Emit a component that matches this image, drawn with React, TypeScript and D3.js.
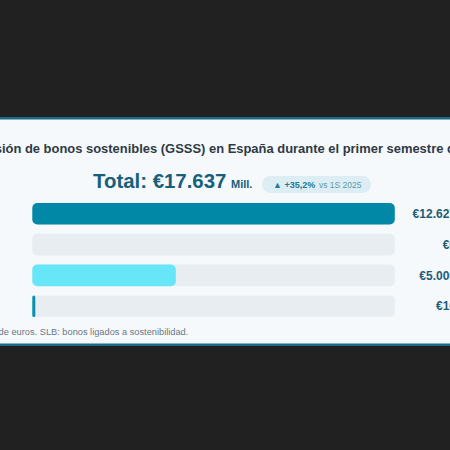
import React from "react";
import * as d3 from "d3";

const categories = ["Verdes", "Sociales", "Sostenibles", "SLB"];
const values = [12627, 0, 5000, 10];
const barColors = ["#0088a6", "#0088a6", "#66e6f7", "#0b8fac"];
const title = "Emisión de bonos sostenibles (GSSS) en España durante el primer semestre de 2026";
const totalLabel = "Total: €17.637";
const unitLabel = "Mill.";
const changeLabel = "▲ +35,2%";
const compareLabel = "vs 1S 2025";
const footnote = "Cifras en millones de euros. SLB: bonos ligados a sostenibilidad.";

const fmt = (v: number) => "€" + d3.format(",")(v).replace(/,/g, ".");

export default function App() {
  const W = 450, H = 450;
  const font = "'Liberation Sans', Arial, sans-serif";
  const x = d3.scaleLinear().domain([0, d3.max(values) as number]).range([0, 362.5]);
  const y = d3.scaleBand<string>().domain(categories).range([203, 317]).paddingInner(0.3).paddingOuter(0);
  const x0 = 32.3;
  return (
    <div style={{ position: "fixed", left: 0, top: 0 }}>
      <svg width={W} height={H} style={{ display: "block" }}>
        <rect x={0} y={0} width={W} height={H} fill="#212121" />
        <rect x={-20} y={117} width={W + 40} height={229} fill="#1b6b86" />
        <rect x={-20} y={119.5} width={W + 40} height={224} fill="#f5f9fb" />
        <text x={-29} y={153} fontFamily={font} fontWeight="bold" fontSize={12.95} fill="#2f3a45">{title}</text>
        <text x={93} y={188} fontFamily={font} fontWeight="bold" fontSize={20.4} fill="#17607c">{totalLabel}</text>
        <text x={231} y={188} fontFamily={font} fontWeight="bold" fontSize={11} fill="#17607c">{unitLabel}</text>
        <rect x={262} y={176} width={109} height={17} rx={8.5} fill="#dcedf4" />
        <text x={273} y={188} fontFamily={font} fontWeight="bold" fontSize={9} fill="#1f7b98">{changeLabel}</text>
        <text x={319} y={188} fontFamily={font} fontSize={8.5} fill="#5f9ab0">{compareLabel}</text>
        {categories.map((c, i) => {
          const yy = y(c) as number;
          const h = y.bandwidth();
          const w = Math.max(x(values[i]), values[i] > 0 ? 3 : 0);
          return (
            <g key={c}>
              <text x={-10} y={yy + h / 2 + 4} textAnchor="end" fontFamily={font} fontSize={11} fill="#2f3a45">{c}</text>
              <rect x={x0} y={yy} width={362.5} height={h} rx={5} fill="#e8edf1" />
              {w > 0 && <rect x={x0} y={yy} width={w} height={h} rx={Math.min(5, w / 2)} fill={barColors[i]} />}
              <text x={456} y={yy + h / 2 + 4.2} textAnchor="end" fontFamily={font} fontWeight="bold" fontSize={12} fill="#1d5d77">{fmt(values[i])}</text>
            </g>
          );
        })}
        <text x={-77.5} y={335} fontFamily={font} fontSize={9.25} fill="#6b7785">{footnote}</text>
      </svg>
    </div>
  );
}
